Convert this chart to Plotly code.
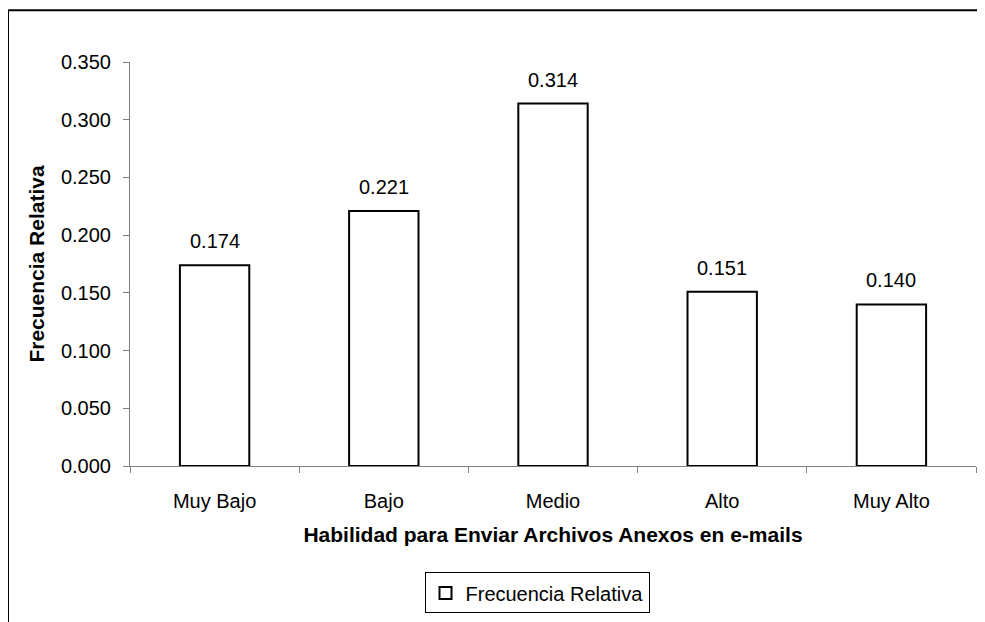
import plotly.graph_objects as go

categories = ["Muy Bajo", "Bajo", "Medio", "Alto", "Muy Alto"]
frecuencia_relativa = [0.174, 0.221, 0.314, 0.151, 0.140]
y_ticks = [0.0, 0.05, 0.1, 0.15, 0.2, 0.25, 0.3, 0.35]

FONT = "Liberation Sans, Arial, sans-serif"
FS = 20
FT = 21

# page body has an 8px margin; work in screen coordinates and convert
OFF = 8
W, H = 985 - OFF, 622 - OFF
L, T = 130 - OFF, 62 - OFF
PR, PB = 976 - OFF, 468 - OFF
R, B = W - PR, H - PB
pw, ph = PR - L, PB - T


def px(x):
    return (x - OFF - L) / pw


def py(y):
    return (PB - (y - OFF)) / ph


fig = go.Figure()
fig.add_trace(go.Bar(
    x=categories,
    y=frecuencia_relativa,
    name="Frecuencia Relativa",
    marker=dict(color="white", line=dict(color="black", width=2)),
    showlegend=True,
))

for c, v in zip(categories, frecuencia_relativa):
    fig.add_annotation(x=c, y=v, text=f"{v:.3f}", showarrow=False,
                       yanchor="bottom", yshift=11,
                       font=dict(family=FONT, size=FS, color="black"))

# outer chart-area frame (cropped at right and bottom)
fig.add_shape(type="line", xref="paper", yref="paper",
              x0=px(8), x1=px(1100), y0=py(10), y1=py(10),
              line=dict(color="black", width=2))
fig.add_shape(type="line", xref="paper", yref="paper",
              x0=px(8), x1=px(8), y0=py(10), y1=py(700),
              line=dict(color="black", width=2))

fig.update_layout(
    width=W, height=H,
    margin=dict(l=L, r=R, t=T, b=B),
    paper_bgcolor="white", plot_bgcolor="white",
    font=dict(family=FONT, size=FS, color="black"),
    bargap=0.59,
    showlegend=True,
    legend=dict(
        orientation="h", x=px(537), xanchor="center",
        y=py(575), yanchor="top",
        bordercolor="black", borderwidth=1,
        font=dict(family=FONT, size=FS, color="black"),
        itemwidth=30,
    ),
    xaxis=dict(
        showline=True, linecolor="#808080", linewidth=1,
        ticks="outside", tickson="boundaries", ticklen=6, tickcolor="#808080",
        tickfont=dict(size=FS), ticklabelstandoff=17,
        title=dict(text="<b>Habilidad para Enviar Archivos Anexos en e-mails</b>",
                   font=dict(size=FT), standoff=16),
        showgrid=False,
    ),
    yaxis=dict(
        range=[0, 0.35],
        tickvals=y_ticks,
        tickformat=".3f",
        showline=True, linecolor="#808080", linewidth=1,
        ticks="outside", ticklen=6, tickcolor="#808080",
        tickfont=dict(size=FS), ticklabelstandoff=8,
        title=dict(text="<b>Frecuencia Relativa</b>", font=dict(size=FT), standoff=10),
        showgrid=False, zeroline=False,
    ),
)

fig.write_html("out.html")
